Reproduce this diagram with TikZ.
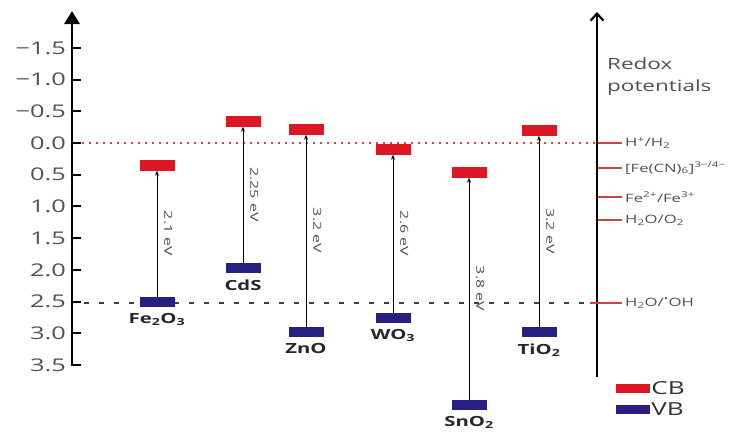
\documentclass[tikz,border=0pt]{standalone}
\usepackage{fontspec}
\setmainfont[FakeStretch=1.45]{Open Sans}
\usetikzlibrary{arrows.meta,positioning}
\definecolor{bandRed}{RGB}{220,22,34}
\definecolor{bandBlue}{RGB}{40,32,128}
\definecolor{redoxRed}{RGB}{200,70,70}
\definecolor{labelGray}{RGB}{80,80,80}

\tikzset{
  cbbar/.style={fill=bandRed,minimum width=35pt,minimum height=11pt,inner sep=0pt},
  vbbar/.style={fill=bandBlue,minimum width=35pt,minimum height=10pt,inner sep=0pt},
  gaparrow/.style={-{Stealth[length=5pt,width=4pt]},line width=0.9pt},
  ticklab/.style={font=\fontsize{17.5}{20}\selectfont,text=labelGray,inner sep=0pt},
  matlab/.style={font=\fontsize{14}{17}\selectfont\bfseries,text=black!85,inner sep=0pt},
  gaplab/.style={font=\fontsize{11}{13}\selectfont,text=black!70,inner sep=0pt,rotate=-90},
  redoxlab/.style={font=\fontsize{11.5}{14}\selectfont,text=labelGray,inner sep=0pt}
}

\begin{document}
\begin{tikzpicture}[x=1pt,y=-1pt]
  \useasboundingbox (0,0) rectangle (735,434);
  % energy axis
  \draw[line width=2.8pt,-{Triangle[length=13pt,width=15pt]}] (72,366) -- (72,11);
  \foreach \e/\lab [count=\i] in {-1.5/{−1.5},-1.0/{−1.0},-0.5/{−0.5},0.0/0.0,0.5/0.5,1.0/1.0,1.5/1.5,2.0/2.0,2.5/2.5,3.0/3.0,3.5/3.5}{
    \draw[line width=2pt] (72,{143+63.4*\e}) -- (81,{143+63.4*\e});
    \node[ticklab,anchor=east] (tick\i) at (66,{143+63.4*\e}) {\lab};
  }
  % reference levels
  \draw[redoxRed,line width=1.1pt,dash pattern=on 2pt off 5pt] (82,143) -- (597,143);
  \draw[black!75,line width=1.2pt,dash pattern=on 5pt off 10pt] (84,303) -- (597,303);

  % band edges
  \foreach \nm/\lab/\x/\cb/\vb/\gap in {
      fe/{Fe\textsubscript{2}O\textsubscript{3}}/157/165/302/{2.1 eV},
      cds/{CdS}/243/121/268/{2.25 eV},
      zno/{ZnO}/306/129/332/{3.2 eV},
      wo/{WO\textsubscript{3}}/393/149/318/{2.6 eV},
      sno/{SnO\textsubscript{2}}/469/172/405/{3.8 eV},
      tio/{TiO\textsubscript{2}}/539/130/332/{3.2 eV}}{
    \node[cbbar] (\nm cb) at (\x,\cb) {};
    \node[vbbar] (\nm vb) at (\x,\vb) {};
    \draw[gaparrow] (\nm vb.north) -- (\nm cb.south);
    \node[gaplab,anchor=south] (\nm gap) at (\x+7,{(\cb+\vb)/2}) {\gap};
    \node[matlab,below=6pt of \nm vb] (\nm lab) {\lab};
  }

  % redox scale
  \draw[line width=2.2pt,-{Straight Barb[length=7pt,width=13pt]}] (597,377) -- (597,12);
  \node[anchor=north west,align=left,font=\fontsize{15.5}{22}\selectfont,text=labelGray,inner sep=0pt] (redox) at (607,58) {Redox\\potentials};
  \foreach \y/\lab [count=\i] in {143/{H\textsuperscript{+}/H\textsubscript{2}},
      168/{[Fe(CN)\textsubscript{6}]\textsuperscript{3−/4−}},
      197/{Fe\textsuperscript{2+}/Fe\textsuperscript{3+}},
      220/{H\textsubscript{2}O/O\textsubscript{2}}}{
    \draw[redoxRed,line width=1.3pt] (598,\y) -- (622,\y);
    \node[redoxlab,anchor=west] (redox\i) at (625,\y) {\lab};
  }
  \draw[redoxRed,line width=1.3pt] (590,303) -- (622,303);
  \node[redoxlab,anchor=west] (redox5) at (625,303) {H\textsubscript{2}O/\textsuperscript{•}OH};

  % legend
  \node[cbbar,minimum width=34pt,minimum height=9pt] (legcb) at (633,388) {};
  \node[font=\fontsize{18}{20}\selectfont,text=black!80,inner sep=0pt,anchor=west] (legcbt) at ([xshift=1pt]legcb.east) {CB};
  \node[vbbar,minimum width=34pt,minimum height=9pt] (legvb) at (633,409) {};
  \node[font=\fontsize{18}{20}\selectfont,text=black!80,inner sep=0pt,anchor=west] (legvbt) at ([xshift=1pt]legvb.east) {VB};
\end{tikzpicture}
\end{document}
